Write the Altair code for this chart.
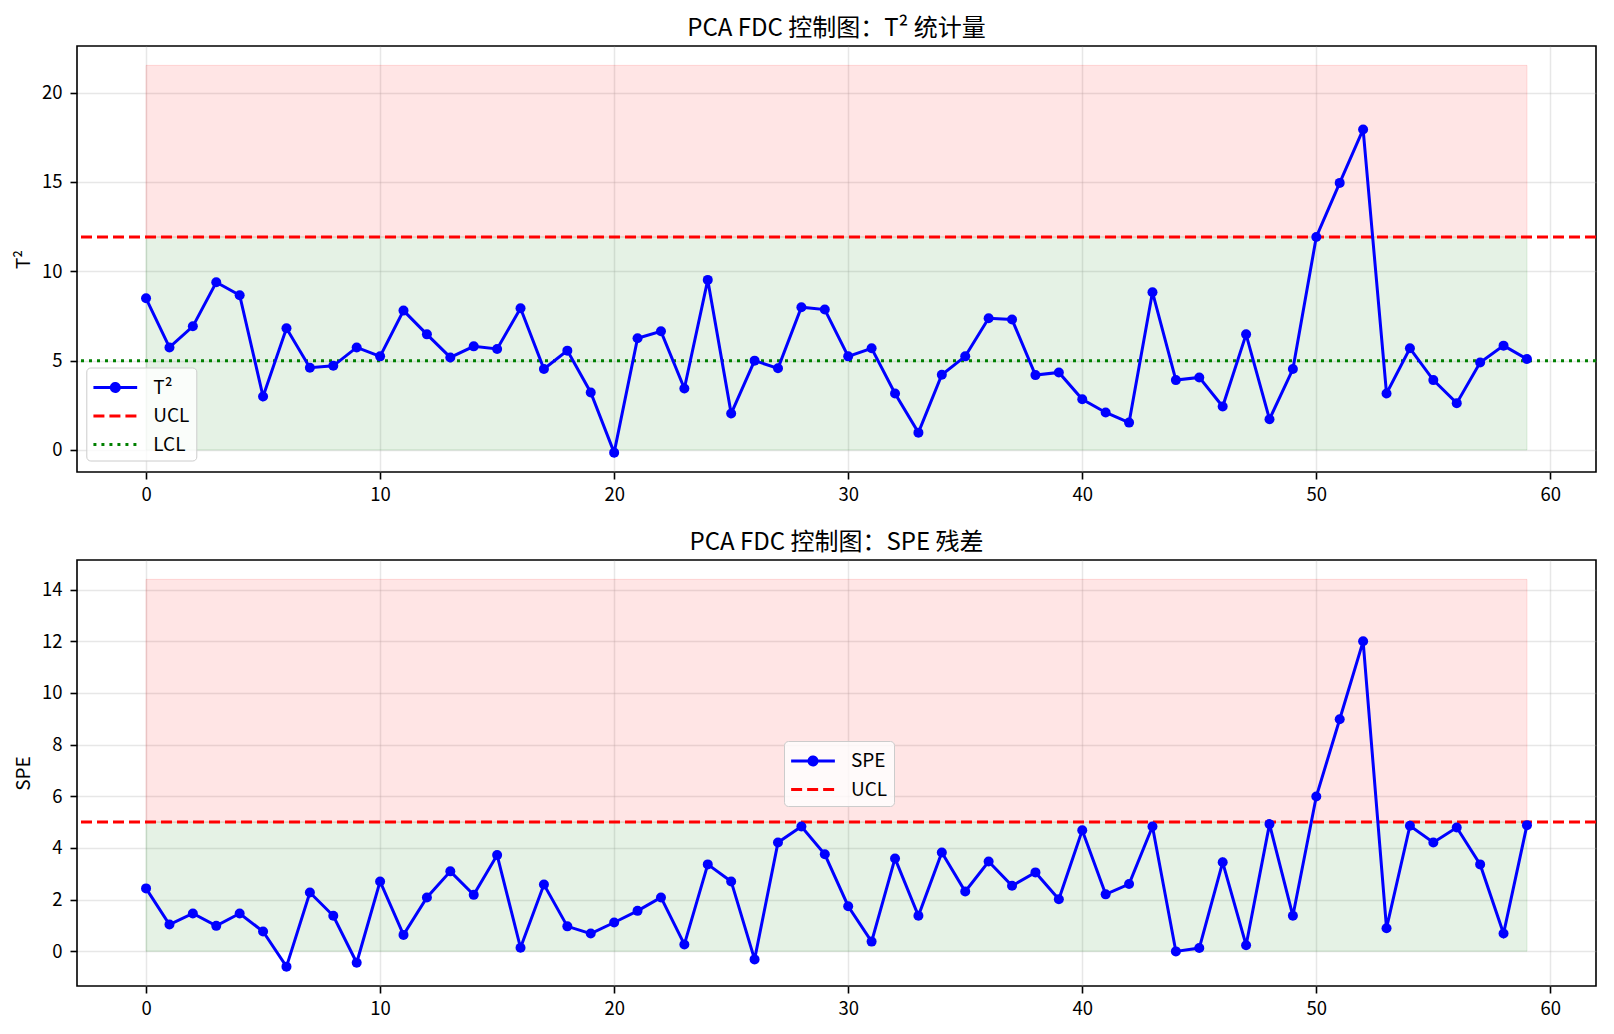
import altair as alt
import pandas as pd

# ---------------- data ----------------
idx = list(range(60))
t2_values = [8.49, 5.74, 6.92, 9.39, 8.66, 2.99, 6.81, 4.60, 4.71, 5.74,
             5.24, 7.80, 6.47, 5.18, 5.80, 5.65, 7.93, 4.53, 5.56, 3.22,
             -0.15, 6.25, 6.64, 3.44, 9.52, 2.04, 5.00, 4.57, 7.99, 7.86,
             5.24, 5.69, 3.16, 0.97, 4.21, 5.24, 7.37, 7.30, 4.19, 4.34,
             2.84, 2.10, 1.53, 8.83, 3.91, 4.06, 2.43, 6.47, 1.72, 4.53,
             11.92, 14.95, 17.94, 3.16, 5.69, 3.91, 2.62, 4.90, 5.84, 5.09]
spe_values = [2.43, 1.03, 1.46, 0.98, 1.46, 0.76, -0.60, 2.27, 1.37, -0.45,
              2.70, 0.63, 2.08, 3.09, 2.18, 3.72, 0.13, 2.58, 0.96, 0.68,
              1.11, 1.56, 2.08, 0.26, 3.36, 2.70, -0.32, 4.21, 4.83, 3.75,
              1.74, 0.37, 3.59, 1.37, 3.82, 2.31, 3.47, 2.53, 3.05, 2.01,
              4.68, 2.20, 2.60, 4.83, -0.01, 0.12, 3.44, 0.23, 4.92, 1.37,
              5.99, 8.98, 12.00, 0.89, 4.86, 4.21, 4.79, 3.36, 0.68, 4.88]
t2_ucl = 11.92
t2_lcl = 5.0
spe_ucl = 5.0

top_title = "PCA FDC 控制图：T² 统计量"
bottom_title = "PCA FDC 控制图：SPE 残差"
t2_name = "T²"
spe_name = "SPE"
x_ticks = [0, 10, 20, 30, 40, 50, 60]
t2_ticks = [0, 5, 10, 15, 20]
spe_ticks = [0, 2, 4, 6, 8, 10, 12, 14]

FONT = "Noto Sans CJK SC"
BLUE = "#0000ff"
RED = "#ff0000"
GREEN = "#008000"

W, H = 1519, 426

LINE_PATH = "M-1.75,0H1.75"
T_PATH = "M-1.75,0H1.75M0.32,0A0.32,0.32,0,1,1,-0.32,0A0.32,0.32,0,1,1,0.32,0Z"


def panel(values, name, ucl, lcl, title, yticks, lx, ly):
    n = len(values)
    df = pd.DataFrame({"i": idx, "v": values})
    band_top = max(values) * 1.2
    bands = pd.DataFrame({
        "x0": [0, 0], "x1": [n - 1, n - 1],
        "y0": [0, ucl], "y1": [ucl, band_top],
        "c": [GREEN, RED],
    })
    lo = min(min(values), 0.0)
    hi = band_top
    m = (hi - lo) * 0.05
    ydom = [lo - m, hi + m]
    xm = (n - 1) * 0.05
    xdom = [-xm, n - 1 + xm]

    xaxis = alt.Axis(values=x_ticks, title=None, format="d")
    yaxis = alt.Axis(values=yticks, title=name, format="d", titleX=-54,
                     titleBaseline="middle", titleAngle=270)
    xs = alt.Scale(domain=xdom, nice=False, zero=False)
    ys = alt.Scale(domain=ydom, nice=False, zero=False)

    def X(f):
        return alt.X(f, type="quantitative", scale=xs, axis=xaxis)

    def Y(f):
        return alt.Y(f, type="quantitative", scale=ys, axis=yaxis)

    band_layer = alt.Chart(bands).mark_rect(
        fillOpacity=0.1, strokeOpacity=0.12, strokeWidth=1
    ).encode(
        x=X("x0"), x2="x1", y=Y("y0"), y2="y1",
        fill=alt.Fill("c:N", scale=None),
        stroke=alt.Stroke("c:N", scale=None),
    )

    names = [name, "UCL"] + (["LCL"] if lcl is not None else [])
    colors = [BLUE, RED] + ([GREEN] if lcl is not None else [])
    shapes = [T_PATH, LINE_PATH] + ([LINE_PATH] if lcl is not None else [])
    dashes = [[1, 0], [11, 5]] + ([[3, 5]] if lcl is not None else [])

    leg = alt.Legend(
        title=None, orient="none", legendX=lx, legendY=ly,
        symbolSize=625, symbolStrokeWidth=3, symbolOpacity=1,
        labelFont=FONT, labelFontSize=19, labelColor="black",
        labelOffset=24, symbolOffset=9, padding=6, rowPadding=4.5,
        fillColor="rgba(255,255,255,0.8)", strokeColor="#cccccc",
        cornerRadius=4,
    )
    leg_df = pd.DataFrame({"s": names})
    legend_layer = alt.Chart(leg_df).mark_point(
        filled=False, fill=BLUE, opacity=0
    ).encode(
        color=alt.Color("s:N", scale=alt.Scale(domain=names, range=colors), legend=leg),
        shape=alt.Shape("s:N", scale=alt.Scale(domain=names, range=shapes), legend=leg),
        strokeDash=alt.StrokeDash("s:N", scale=alt.Scale(domain=names, range=dashes), legend=leg),
    )

    ucl_layer = alt.Chart(pd.DataFrame({"y": [ucl]})).mark_rule(
        color=RED, strokeWidth=3, strokeDash=[11, 5]
    ).encode(y=Y("y"))

    line_layer = alt.Chart(df).mark_line(color=BLUE, strokeWidth=3).encode(
        x=X("i"), y=Y("v"))
    pts_layer = alt.Chart(df).mark_circle(color=BLUE, size=100, opacity=1).encode(
        x=X("i"), y=Y("v"))

    layers = [band_layer, ucl_layer]
    if lcl is not None:
        lcl_layer = alt.Chart(pd.DataFrame({"y": [lcl]})).mark_rule(
            color=GREEN, strokeWidth=3, strokeDash=[3, 5]
        ).encode(y=Y("y"))
        layers.append(lcl_layer)
    layers += [line_layer, pts_layer, legend_layer]

    return alt.layer(*layers).properties(
        width=W, height=H,
        title=alt.TitleParams(title, font=FONT, fontSize=24, fontWeight="normal",
                              color="black", anchor="middle", offset=5),
    )


top = panel(t2_values, t2_name, t2_ucl, t2_lcl, top_title, t2_ticks, 9.3, 321.5)
bottom = panel(spe_values, spe_name, spe_ucl, None, bottom_title, spe_ticks, 707, 181)

chart = alt.vconcat(top, bottom, spacing=25).resolve_scale(
    color="independent", shape="independent", strokeDash="independent"
).resolve_legend(
    color="independent", shape="independent", strokeDash="independent"
).properties(
    padding={"left": 5, "top": 8, "right": 5, "bottom": 5}
).configure_view(
    stroke="black", strokeWidth=1.6
).configure_axis(
    domain=False, tickColor="black", tickWidth=1.6, tickSize=7,
    labelFont=FONT, labelFontSize=18.5, labelColor="black",
    titleFont=FONT, titleFontSize=19, titleFontWeight="normal", titleColor="black",
    gridColor="#b0b0b0", gridOpacity=0.3, gridWidth=1.5,
).configure_axisX(labelPadding=6).configure_axisY(labelPadding=8)

chart.save("out.html", embed_options={"renderer": "svg", "actions": False})
